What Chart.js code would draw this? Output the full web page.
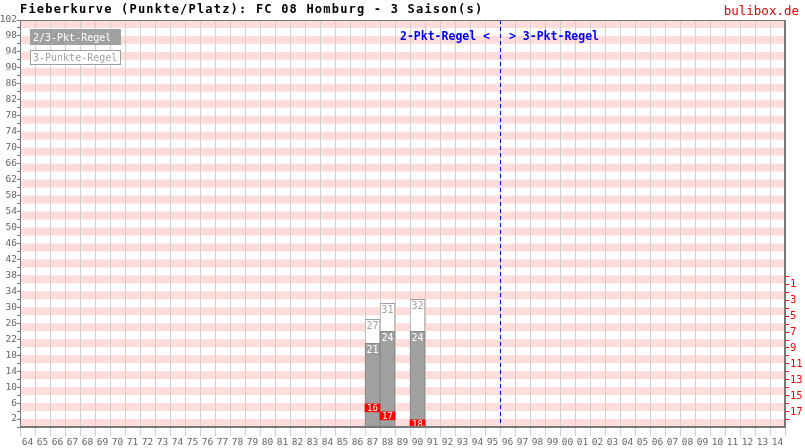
<!DOCTYPE html>
<html>
<head>
<meta charset="utf-8">
<script src="https://cdn.jsdelivr.net/npm/chart.js@4/dist/chart.umd.min.js"></script>
<style>
  body { margin: 0; background: #fff; }
  #chart { display: block; }
</style>
</head>
<body>
<canvas id="chart" width="805" height="448"></canvas>
<script>
const seasons = [
  "64", "65", "66", "67", "68", "69", "70", "71", "72", "73", "74", "75", "76",
  "77", "78", "79", "80", "81", "82", "83", "84", "85", "86", "87", "88", "89",
  "90", "91", "92", "93", "94", "95", "96", "97", "98", "99", "00", "01", "02",
  "03", "04", "05", "06", "07", "08", "09", "10", "11", "12", "13", "14",
];
const playedSeasons = ["87", "88", "90"];
const points23 = [21, 24, 24]; // 2/3-Pkt-Regel
const points3 = [27, 31, 32]; // 3-Punkte-Regel
const places = [16, 17, 18];

const MONO = "'DejaVu Sans Mono', monospace";

function bySeason(values) {
  return seasons.map((s) => {
    const i = playedSeasons.indexOf(s);
    return i < 0 ? null : values[i];
  });
}

const placeBars = seasons.map((s) => {
  const i = playedSeasons.indexOf(s);
  return i < 0 ? null : [places[i], places[i] + 1];
});

// pink stripes behind grid
const stripes = {
  id: "stripes",
  beforeDraw(chart) {
    const { ctx, chartArea: a, scales } = chart;
    ctx.save();
    ctx.fillStyle = "#ffdcdc";
    for (let v = 0; v < 102; v += 4) {
      const y1 = scales.y.getPixelForValue(v + 2);
      const y0 = scales.y.getPixelForValue(v);
      ctx.fillRect(a.left, y1, a.right - a.left, y0 - y1);
    }
    ctx.restore();
  },
};

const extras = {
  id: "extras",
  afterDatasetsDraw(chart) {
    const { ctx, chartArea: a, scales } = chart;
    ctx.save();

    // values in bars
    ctx.textAlign = "center";
    ctx.textBaseline = "middle";
    const gray = chart.getDatasetMeta(0);
    const outline = chart.getDatasetMeta(1);
    const red = chart.getDatasetMeta(2);
    ctx.font = "10px " + MONO;
    outline.data.forEach((bar, i) => {
      const v = chart.data.datasets[1].data[i];
      if (v == null) return;
      ctx.fillStyle = "#a0a0a0";
      ctx.fillText(v, bar.x, bar.y + 7);
    });
    gray.data.forEach((bar, i) => {
      const v = chart.data.datasets[0].data[i];
      if (v == null) return;
      ctx.fillStyle = "#fff";
      ctx.fillText(v, bar.x, bar.y + 7);
    });
    ctx.font = "9px " + MONO;
    red.data.forEach((bar, i) => {
      const v = chart.data.datasets[2].data[i];
      if (v == null) return;
      ctx.fillStyle = "#fff";
      ctx.fillText(v[0], bar.x, Math.min(bar.y, bar.base) + 4.5);
    });

    // rule change line
    const xs = (scales.x.getPixelForValue(31) + scales.x.getPixelForValue(32)) / 2;
    ctx.strokeStyle = "#0000ff";
    ctx.lineWidth = 1;
    ctx.setLineDash([4, 3]);
    ctx.beginPath();
    ctx.moveTo(Math.round(xs) + 0.5, a.top);
    ctx.lineTo(Math.round(xs) + 0.5, a.bottom);
    ctx.stroke();
    ctx.setLineDash([]);
    ctx.fillStyle = "#0000ff";
    ctx.font = "bold 11.5px " + MONO;
    ctx.textBaseline = "middle";
    ctx.textAlign = "right";
    ctx.fillText("2-Pkt-Regel <", xs - 10, 37);
    ctx.textAlign = "left";
    ctx.fillText("> 3-Pkt-Regel", xs + 9, 37);

    // legend
    ctx.font = "10px " + MONO;
    ctx.fillStyle = "#a0a0a0";
    ctx.fillRect(30, 29, 91, 16);
    ctx.fillStyle = "#fff";
    ctx.fillText("2/3-Pkt-Regel", 33, 38);
    ctx.fillStyle = "#fff";
    ctx.fillRect(30, 50, 90, 14);
    ctx.strokeStyle = "#a0a0a0";
    ctx.strokeRect(30.5, 50.5, 90, 14);
    ctx.fillStyle = "#a0a0a0";
    ctx.fillText("3-Punkte-Regel", 33, 58);

    // frame
    ctx.strokeStyle = "#777";
    ctx.strokeRect(a.left + 0.5, a.top + 0.5, a.right - a.left - 1, a.bottom - a.top - 1);
    ctx.restore();
  },
  afterDraw(chart) {
    const { ctx } = chart;
    ctx.save();
    ctx.textBaseline = "middle";
    ctx.textAlign = "left";
    ctx.fillStyle = "#000";
    ctx.font = "bold 12px " + MONO;
    ctx.letterSpacing = "1.2px";
    ctx.fillText("Fieberkurve (Punkte/Platz): FC 08 Homburg - 3 Saison(s)", 20, 10);
    ctx.letterSpacing = "0px";
    ctx.fillStyle = "#e00000";
    ctx.font = "12.5px " + MONO;
    ctx.textAlign = "right";
    ctx.fillText("bulibox.de", 799, 12);
    ctx.restore();
  },
};

new Chart(document.getElementById("chart").getContext("2d"), {
  type: "bar",
  data: {
    labels: seasons,
    datasets: [
      {
        label: "2/3-Pkt-Regel",
        data: bySeason(points23),
        backgroundColor: "#a0a0a0",
        borderColor: "#888",
        borderWidth: 1,
        yAxisID: "y",
        grouped: false,
        order: 1,
      },
      {
        label: "3-Punkte-Regel",
        data: bySeason(points3),
        backgroundColor: "#fff",
        borderColor: "#a0a0a0",
        borderWidth: 1,
        yAxisID: "y",
        grouped: false,
        order: 2,
      },
      {
        label: "Platz",
        data: placeBars,
        backgroundColor: "#ff0000",
        borderWidth: 0,
        yAxisID: "y2",
        grouped: false,
        order: 0,
      },
    ],
  },
  options: {
    responsive: false,
    animation: false,
    barPercentage: 1,
    categoryPercentage: 1,
    layout: { padding: { top: 20 } },
    plugins: {
      legend: { display: false },
      tooltip: { enabled: false },
    },
    scales: {
      x: {
        offset: true,
        grid: { color: "#cfcfcf", offset: true, tickLength: 9 },
        border: { color: "#777" },
        ticks: {
          autoSkip: false,
          maxRotation: 0,
          padding: 1,
          color: "#666",
          font: { family: MONO, size: 9.5 },
        },
        afterFit: (s) => { s.height = 21; },
      },
      y: {
        position: "left",
        min: 0,
        max: 102,
        afterBuildTicks: (s) => {
          const t = [];
          for (let v = 0; v <= 102; v += 2) t.push({ value: v });
          s.ticks = t;
        },
        grid: { drawOnChartArea: false, tickLength: 3, color: "#777" },
        border: { color: "#777" },
        ticks: {
          autoSkip: false,
          padding: 0,
          color: "#666",
          font: { family: MONO, size: 9.5 },
          callback: (v) => ((v - 2) % 4 === 0 ? v : ""),
        },
        afterFit: (s) => { s.width = 20; },
      },
      y2: {
        position: "right",
        reverse: true,
        min: -32.1,
        max: 18.9,
        afterBuildTicks: (s) => {
          const t = [];
          for (let p = 0; p <= 18; p++) t.push({ value: p });
          s.ticks = t;
        },
        grid: { drawOnChartArea: false, tickLength: 4, color: "#ff0000" },
        border: { color: "#777" },
        ticks: {
          autoSkip: false,
          padding: 1,
          color: "#ff0000",
          font: { family: MONO, size: 10.5 },
          callback: (v) => (v % 2 === 1 ? v : ""),
        },
        afterFit: (s) => { s.width = 20; },
      },
    },
  },
  plugins: [stripes, extras],
});
</script>
</body>
</html>
